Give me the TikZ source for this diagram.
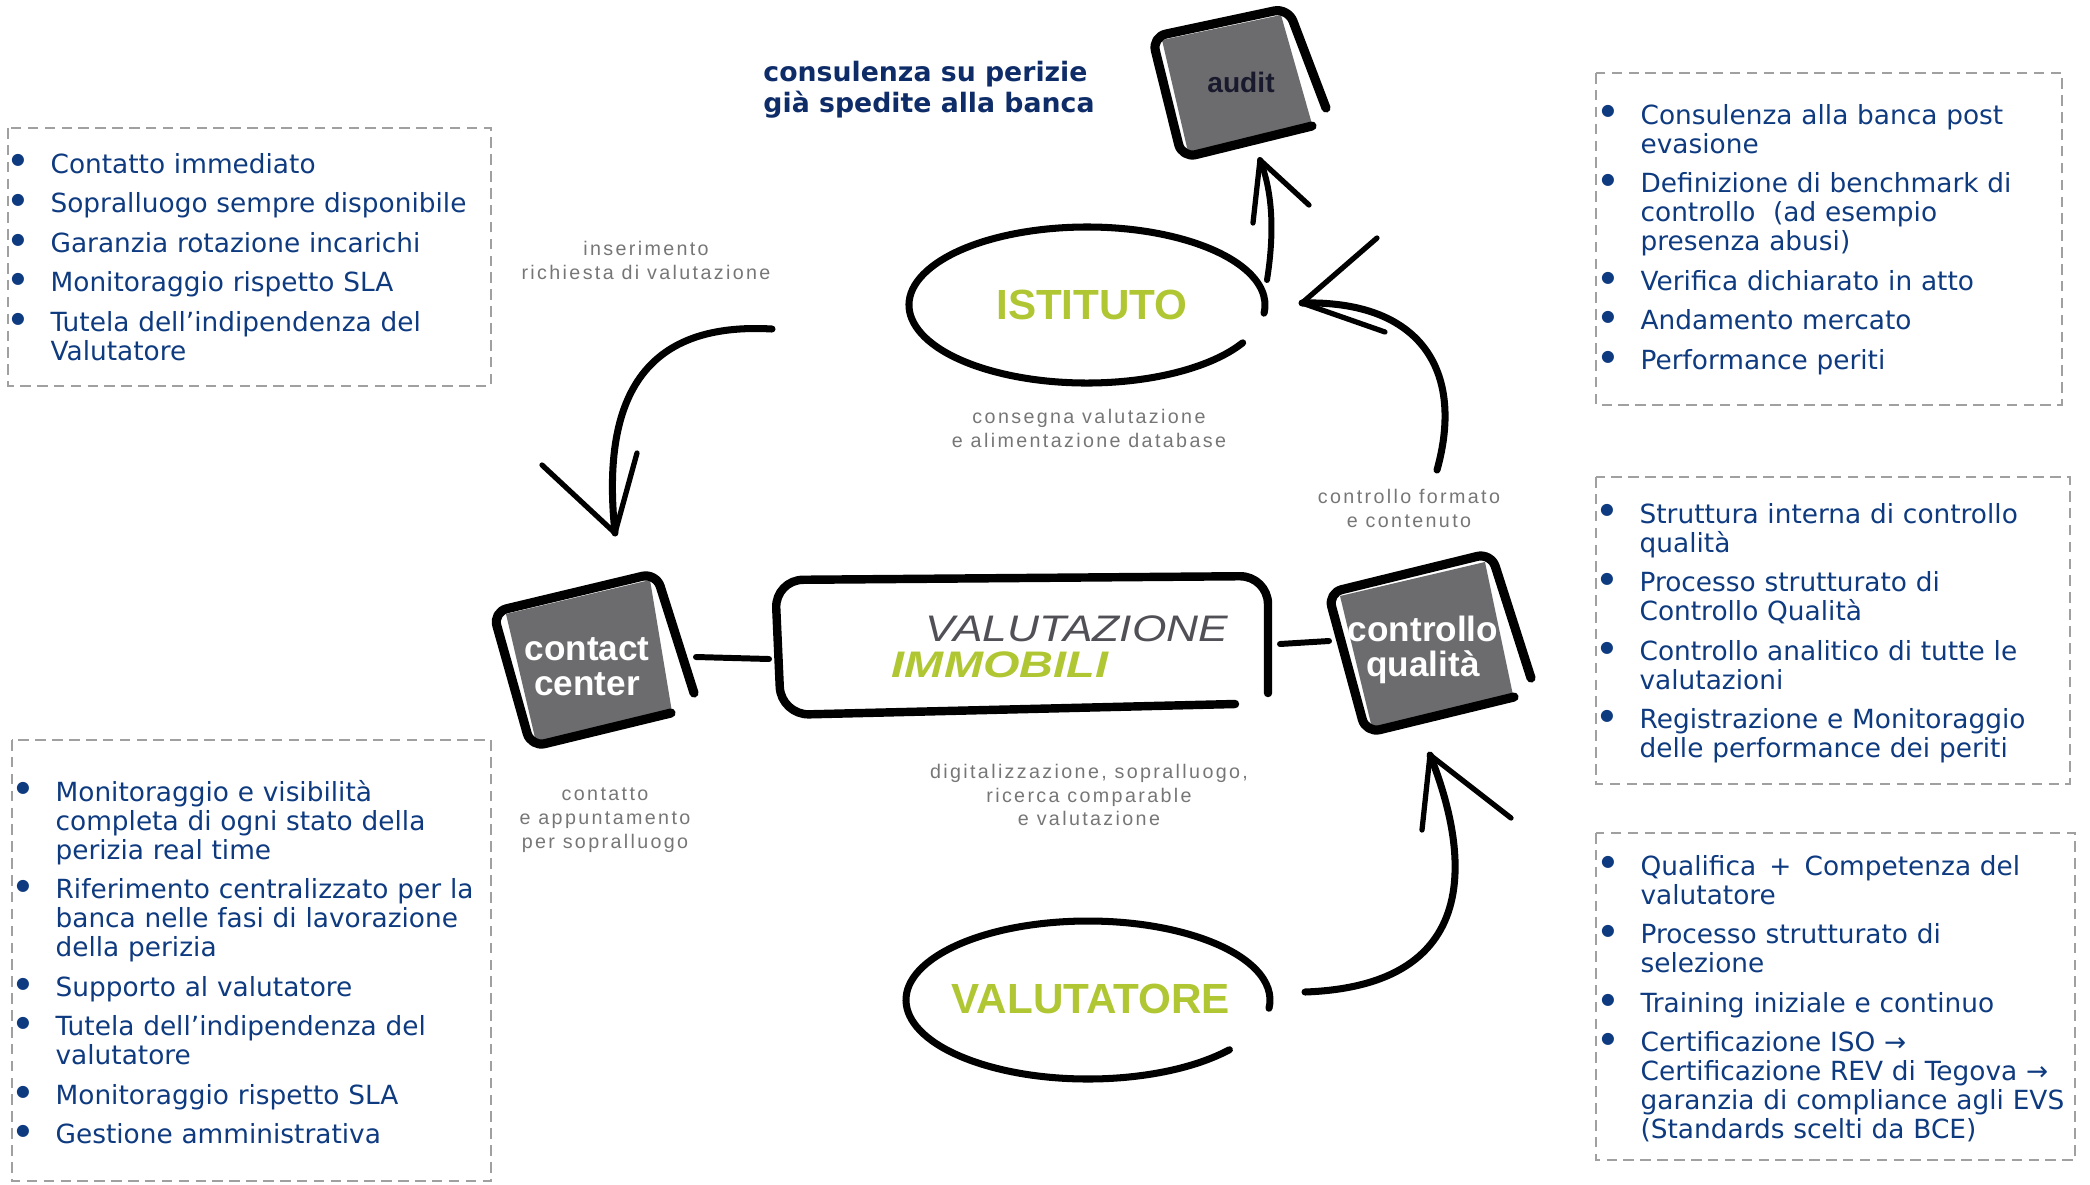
\documentclass[tikz,border=0pt]{standalone}
\usepackage{fontspec}
\usepackage{graphicx}
\setmainfont{DejaVu Sans}
\newfontfamily\sketchfont{Liberation Sans}
\newfontfamily\labelfont[LetterSpace=12]{Liberation Sans}

\definecolor{listblue}{RGB}{14,58,128}
\definecolor{titlenavy}{RGB}{14,44,104}
\definecolor{labelgray}{RGB}{118,118,118}
\definecolor{lime}{RGB}{176,198,50}
\definecolor{screengray}{RGB}{108,108,110}
\definecolor{framegray}{RGB}{160,160,160}
\definecolor{wordgray}{RGB}{80,80,86}

\newcommand{\bitem}[1]{\noindent\hangindent=12.2pt\hangafter=1\makebox[12.2pt][l]{\hspace*{0.95pt}\raisebox{2.3pt}{\fontsize{4.5pt}{4.5pt}\selectfont ●}}#1\par}

\begin{document}
\begin{tikzpicture}[x=0.01cm, y=-0.01cm,
    sketch/.style={line width=2pt, line cap=round, line join=round},
    thickSketch/.style={line width=2.6pt, line cap=round, line join=round, rounded corners=4pt},
    barb/.style={line width=1.5pt, line cap=round},
    dashBox/.style={draw=framegray, line width=0.6pt, dash pattern=on 3pt off 1.8pt},
    bulletList/.style={anchor=base west, inner sep=0pt, text width=4.8cm, align=left, text=listblue, font=\fontsize{7.5pt}{8.25pt}\selectfont},
    stepLabel/.style={inner sep=0pt, align=center, text=labelgray, font=\labelfont\fontsize{5.6pt}{6.8pt}\selectfont},
    screenText/.style={inner sep=0pt, align=center, text=white, font=\sketchfont\bfseries\fontsize{10pt}{10pt}\selectfont},
    roleText/.style={inner sep=0pt, text=lime, font=\sketchfont\bfseries\fontsize{12pt}{14pt}\selectfont}]
\useasboundingbox (0,0) rectangle (2090,1184);

\draw[dashBox] (8,128) rectangle (491,386);
\draw[dashBox] (12,740) rectangle (491,1181);
\draw[dashBox] (1596,73) rectangle (2062,405);
\draw[dashBox] (1596,477) rectangle (2070,784);
\draw[dashBox] (1596,833) rectangle (2075,1160);

\node[bulletList] (bankList) at (7,173) {\setlength{\parskip}{3pt}%
	\bitem{Contatto immediato}
	\bitem{Sopralluogo sempre disponibile}
	\bitem{Garanzia rotazione incarichi}
	\bitem{Monitoraggio rispetto SLA}
	\bitem{Tutela dell’indipendenza del\newline Valutatore}};
\node[bulletList] (contactList) at (12,801) {\setlength{\parskip}{3pt}%
	\bitem{Monitoraggio e visibilità\newline completa di ogni stato della\newline perizia real time}
	\bitem{Riferimento centralizzato per la\newline banca nelle fasi di lavorazione\newline della perizia}
	\bitem{Supporto al valutatore}
	\bitem{Tutela dell’indipendenza del\newline valutatore}
	\bitem{Monitoraggio rispetto SLA}
	\bitem{Gestione amministrativa}};
\node[bulletList] (auditList) at (1597,124) {\setlength{\parskip}{3pt}%
	\bitem{Consulenza alla banca post\newline evasione}
	\bitem{Definizione di benchmark di\newline controllo\ \ (ad esempio\newline presenza abusi)}
	\bitem{Verifica dichiarato in atto}
	\bitem{Andamento mercato}
	\bitem{Performance periti}};
\node[bulletList] (qualityList) at (1596,523) {\setlength{\parskip}{3pt}%
	\bitem{Struttura interna di controllo\newline qualità}
	\bitem{Processo strutturato di\newline Controllo Qualità}
	\bitem{Controllo analitico di tutte le\newline valutazioni}
	\bitem{Registrazione e Monitoraggio\newline delle performance dei periti}};
\node[bulletList] (valuerList) at (1597,875) {\setlength{\parskip}{3pt}%
	\bitem{Qualifica\ \,+\ \,Competenza del\newline valutatore}
	\bitem{Processo strutturato di\newline selezione}
	\bitem{Training iniziale e continuo}
	\bitem{Certificazione ISO →\newline Certificazione REV di Tegova →\newline garanzia di compliance agli EVS\newline (Standards scelti da BCE)}};

\node[inner sep=0pt, align=left, text=titlenavy, font=\bfseries\fontsize{7.6pt}{8.8pt}\selectfont] (auditTitle) at (929,90) {consulenza su perizie\\già spedite alla banca};

% audit screen
\fill[screengray] (1162,40) -- (1281,15) -- (1312,124) -- (1188,152) -- cycle;
\draw[thickSketch] (1312,126) -- (1182,158) -- (1152,37) -- (1288,8) -- (1326,108);
\node[inner sep=0pt, text={rgb,255:red,25;green,25;blue,45}, font=\sketchfont\bfseries\fontsize{8pt}{8pt}\selectfont] (auditText) at (1241,82) {audit};

% contact center screen
\fill[screengray] (506,614) -- (650,580) -- (672,712) -- (536,742) -- cycle;
\draw[thickSketch] (671,713) -- (531,747) -- (493,612) -- (656,573) -- (694,693);
\node[screenText] (contactText) at (587,667) {contact\\center};

% controllo qualita screen
\fill[screengray] (1340,596) -- (1485,562) -- (1513,695) -- (1372,728) -- cycle;
\draw[thickSketch] (1514,697) -- (1366,733) -- (1328,593) -- (1491,553) -- (1531,678);
\node[screenText] (qualityText) at (1423,650) {controllo\\qualità};

% valutazione immobili
\draw[sketch, line width=2.4pt, rounded corners=8pt] (1235,704) -- (781,715) -- (775,580) -- (1268,576) -- (1268,693);
\node[inner sep=0pt, text=wordgray, font=\sketchfont\itshape\fontsize{10.5pt}{10.5pt}\selectfont] (valText) at (1077,629) {\scalebox{1.2}[1]{VALUTAZIONE}};
\node[inner sep=0pt, text=lime, font=\sketchfont\bfseries\itshape\fontsize{10.5pt}{10.5pt}\selectfont] (immText) at (1000,665) {\scalebox{1.27}[1]{IMMOBILI}};

\coordinate (contactJoin) at (696,657);
\coordinate (valLeftJoin) at (769,659);
\coordinate (valRightJoin) at (1280,644);
\coordinate (qualityJoin) at (1329,641);
\draw[sketch, line width=1.7pt] (contactJoin) -- (valLeftJoin);
\draw[sketch, line width=1.7pt] (valRightJoin) -- (qualityJoin);

% istituto
\coordinate (istitutoMid) at (1087,305);
\draw[sketch] (istitutoMid) ++(29:178 and 78) arc[start angle=29, end angle=366, x radius=178, y radius=78];
\node[roleText] (istitutoText) at (1092,305) {ISTITUTO};

% valutatore
\coordinate (valutatoreMid) at (1088,1000);
\draw[sketch] (valutatoreMid) ++(39:182 and 79) arc[start angle=39, end angle=366, x radius=182, y radius=79];
\node[roleText] (valutatoreText) at (1091,999) {VALUTATORE};

% labels
\node[stepLabel] (requestLabel) at (646,260) {inserimento\\richiesta di valutazione};
\node[stepLabel] (deliveryLabel) at (1089,428) {consegna valutazione\\e alimentazione database};
\node[stepLabel] (checkLabel) at (1409,508) {controllo formato\\e contenuto};
\node[stepLabel] (contactLabel) at (605,820) {contatto\\e appuntamento\\per sopralluogo};
\node[stepLabel] (workLabel) at (1089,795) {digitalizzazione, sopralluogo,\\ricerca comparable\\e valutazione};

% arrows
\coordinate (requestFrom) at (772,329);
\coordinate (requestTip) at (615,533);
\draw[sketch] (requestFrom) .. controls (650,322) and (600,390) .. (requestTip);
\draw[barb] (requestTip) -- (542,465) (requestTip) -- (637,453);

\coordinate (valuerFrom) at (1305,992);
\coordinate (valuerTip) at (1430,755);
\draw[sketch] (valuerFrom) .. controls (1500,985) and (1460,830) .. (valuerTip);
\draw[barb] (valuerTip) -- (1422,830) (valuerTip) -- (1511,818);

\coordinate (checkFrom) at (1437,470);
\coordinate (checkTip) at (1302,303);
\draw[sketch] (checkFrom) .. controls (1465,370) and (1420,300) .. (checkTip);
\draw[barb] (checkTip) -- (1377,238) (checkTip) -- (1385,332);

\coordinate (auditFrom) at (1267,280);
\coordinate (auditTip) at (1260,160);
\draw[sketch, line width=1.7pt] (auditFrom) .. controls (1275,230) and (1272,190) .. (auditTip);
\draw[barb] (auditTip) -- (1253,223) (auditTip) -- (1309,205);
\end{tikzpicture}
\end{document}
